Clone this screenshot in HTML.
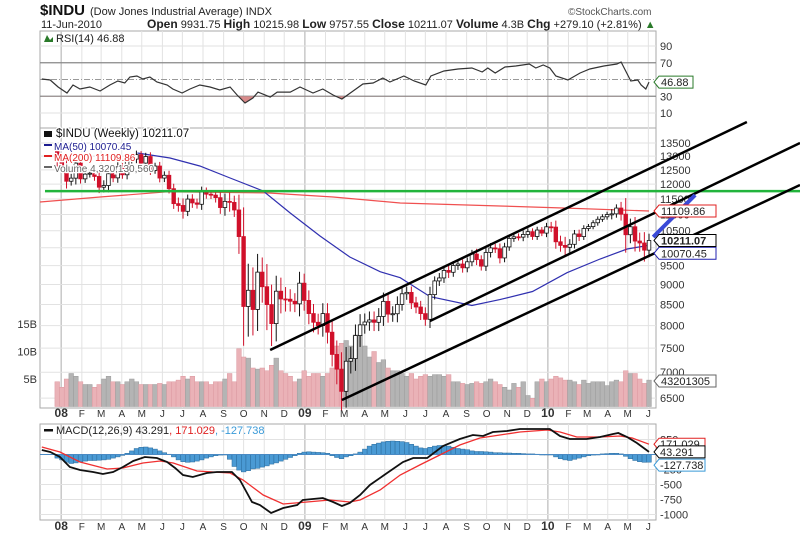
<!DOCTYPE html>
<html><head><meta charset="utf-8"><style>
html,body{margin:0;padding:0;background:#fff;width:800px;height:541px;overflow:hidden}
svg{display:block;font-family:"Liberation Sans",Arial,sans-serif}
</style></head><body>
<svg id="chart" width="800" height="541" viewBox="0 0 800 541" xmlns="http://www.w3.org/2000/svg">
<rect x="0" y="0" width="800" height="541" fill="#fff"/>
<text x="40" y="15" font-size="15" font-weight="bold" fill="#111">$INDU</text>
<text x="90" y="15" font-size="11" fill="#222">(Dow Jones Industrial Average) INDX</text>
<text x="568" y="15" font-size="10" fill="#555">©StockCharts.com</text>
<text x="41" y="28" font-size="11" fill="#222">11-Jun-2010</text>
<text x="147" y="28" font-size="11" fill="#222"><tspan font-weight="bold" font-size="12">Open</tspan> 9931.75 <tspan font-weight="bold" font-size="12">High</tspan> 10215.98 <tspan font-weight="bold" font-size="12">Low</tspan> 9757.55 <tspan font-weight="bold" font-size="12">Close</tspan> 10211.07 <tspan font-weight="bold" font-size="12">Volume</tspan> 4.3B <tspan font-weight="bold" font-size="12">Chg</tspan> +279.10 (+2.81%) <tspan fill="#2a7a2a">▲</tspan></text>
<g id="g"></g>
</svg>
<script>
// ---------- DATA ----------
const closes = [12800,12606,12099,12207,12743,12182,12348,12381,12266,11894,11951,12361,12216,12609,12325,12849,12891,13058,12745,12986,12480,12638,12210,12307,11843,11347,11288,11100,11496,11370,11326,11734,11659,11628,11543,11220,11421,11388,11143,10325,8451,8852,8378,9325,8943,8497,8046,8829,8635,8629,8579,8515,
9034,8599,8281,8077,8000,8280,7850,7366,7062,6627,7224,7278,7776,8017,8083,8131,8076,8212,8575,8268,8277,8500,8764,8799,8539,8438,8280,8146,8743,9093,9171,9370,9321,9505,9544,9441,9605,9820,9665,9487,9865,9995,9972,9712,10023,10270,10318,10309,10388,10471,10328,10520,10428,
10618,10609,10172,10067,10012,10099,10402,10325,10566,10624,10742,10850,10927,10997,11019,11204,11009,10380,10620,10193,10137,9931,10211];
const firstOpen = 13200;
const wick = [180,200,250,150,220,160,140,120,150,200,180,230,150,170,140,160,120,150,130,140,160,120,150,140,160,170,200,230,150,160,140,180,150,130,160,200,260,300,220,
500,900,700,600,500,400,600,500,400,350,300,250,200,
300,250,250,230,200,250,250,250,300,350,300,250,250,
250,200,200,200,200,220,200,180,200,150,150,150,150,
150,150,200,120,130,130,150,120,120,130,120,120,150,120,130,140,120,150,120,110,100,100,120,100,100,100,90,
120,150,200,180,250,150,120,130,100,80,80,90,80,90,150,120,200,520,250,300,250,320,200];
const volumes = [4.5,3.5,5,6,5.5,4.5,4,4,3.5,4,5,5.5,4.5,
4.5,4,4.5,5,4.5,4,4,4,4,4.2,4,4.5,4.5,
4.8,5.5,5,5.5,4.5,4.5,4.5,4,4.5,4.5,5,6,4.5,
10.5,9,8.8,7,6.8,7,6.5,7.5,8.8,6.5,6,5.5,4.5,
5,6.5,5.5,6,6,5.5,6,7,11,11.5,12,11,13,
13,11,9,10,8,8.5,7,6.5,6.5,6,5.5,6,5,
5.5,5.8,5.5,5.8,5.8,5.5,5.8,4.5,4.5,4.2,4,4.2,4.5,
4.2,4.5,5,4.5,4,3.5,3,4.2,3.5,4.5,2,1.5,4.5,
5,4.5,5,5.5,5.2,4.8,4.8,4.5,4,4.8,4.2,4.5,4.5,4.5,3.8,4.5,4.8,4.5,6.5,6,6,5,4.2,4.8];
const ma50Idx = [17.2,24.2,30.6,37.1,44.2,50,56.4,62.8,69.3,73.6,80,89,95,102,109.4,116.5,122.3,127];
const ma50Val = [13118,12932,12639,12212,11766,11046,10341,9738,9337,9178,8694,8475,8620,8821,9310,9682,9964,10070];
const ma200Idx = [-3.7,9.2,23.6,45,59.2,73.6,95,109.4,127];
const ma200Val = [11401,11566,11737,11703,11566,11368,11270,11204,11110];
const rsiIdx = [-3.3,-1.5,0.2,2.1,3.4,4.9,7,9.2,11.3,13,14.5,15.6,17.1,18.4,19.9,21.4,23.6,24.8,26.8,28.5,30.6,32.8,34.9,37.1,38.6,40.3,42,43.1,45.7,47.2,50,52.1,54.9,57,59.2,61.1,63.5,65.6,67.8,69.9,71.4,74.4,76.6,79.1,80.2,83,86,89,91.2,92.4,94,96.1,98.4,101.3,102.7,104.3,105.7,107,109.6,112.2,114.3,117.3,120.1,121,123.1,124.6,125.3,126.3,127];
const rsiVal = [50.6,49.4,41,33.9,43.4,38.7,41,36.3,43.4,48.2,45.8,53,54.2,50.6,53,47,43.4,38.7,33.9,38.7,43.4,41,37.5,41,31.5,22,27.9,35,29,35,35,41,33.9,38.7,31.5,26.7,36.3,44.6,45.8,51.8,47,54.2,48.2,43.4,54.2,60.1,62.5,63.7,59,63.7,57.8,64.9,66.1,68.5,63.7,67.3,63.7,54.2,49.4,57.8,62.5,66.1,68.5,70.9,48.2,49.4,43.4,38.7,46.9];
const macdIdx = [-3.3,-1.5,0.6,2.7,4.9,7.7,9.8,12,14.1,16.3,18.8,21.4,23.6,25.3,27,29.1,32.1,34.3,37.5,39.2,41.8,43.5,45.9,48.5,51.5,52.7,57,59.2,61.1,62.8,65,67.1,70.8,74.2,76.4,79.4,82.8,86.4,89.2,91.4,93.5,96.5,99.3,102.1,105.7,107.9,110,113.6,116.5,119.3,120.4,122.3,124.4,127];
const macdVal = [75,42,-42,-208,-258,-292,-325,-292,-208,-108,-42,-58,-125,-225,-342,-375,-308,-292,-292,-425,-792,-842,-975,-892,-842,-758,-725,-792,-858,-808,-675,-508,-308,-125,-58,-58,142,258,325,308,375,392,425,425,425,308,258,258,292,342,358,292,192,43];
const sigIdx = [-3.3,0.6,4.9,10.7,14.1,18.4,22.1,24.9,30,37.1,39.9,44.2,48.5,53.6,58.5,62.8,65,69.3,73.6,77.8,82.1,86.4,90.7,95,99.3,105.1,107.9,111.5,116.5,120.8,123.4,127];
const sigVal = [125,42,-125,-242,-225,-142,-108,-142,-275,-308,-425,-675,-825,-792,-758,-792,-758,-592,-342,-175,-8,158,275,325,375,408,375,292,292,308,275,171];
const hist = [-60,-90,-130,-150,-140,-120,-110,-100,-100,-95,-90,-80,-60,-40,-15,20,60,100,120,125,110,90,60,30,5,-40,-90,-120,-130,-125,-110,-90,-60,-40,-20,-10,-5,-80,-200,-260,-290,-270,-240,-230,-210,-190,-160,-140,-110,-80,-50,-20,20,40,45,40,35,30,20,-20,-50,-70,-40,-20,10,40,90,140,170,190,210,220,225,220,215,200,170,140,110,100,120,140,150,150,140,120,100,90,80,60,50,50,45,40,30,30,25,25,20,20,15,10,10,5,0,0,-5,-40,-70,-90,-100,-80,-60,-40,-20,-10,0,10,15,20,20,10,-30,-70,-100,-120,-130,-128];
const priceTicks = [13500,13000,12500,12000,11500,11000,10500,10000,9500,9000,8500,8000,7500,7000,6500];
const volTicks = [15,10,5];
const rsiTicks = [90,70,50,30,10];
const macdTicks = [250,0,-250,-500,-750,-1000];
const resistance = 11760;
const trendA = [[45.7,7460],[148,14337]];
const trendB = [[80,8107],[159.4,13500]];
const trendC = [[61.1,6465],[159.4,11969]];
const trendD = [[127.9,10313],[136.9,11632]];

// ---------- SCALES ----------
const L=40,R=656;
const xOf = i => 57.2 + 4.66*i;
const yP = p => 143 + (Math.log(13500) - Math.log(p))*349;
const yV = b => 406.5 - b*5.5;
const yR = v => 46 + (90 - v)*0.8375;
const yM = v => 454.5 - v*0.06;
const NS='http://www.w3.org/2000/svg';
const G=document.getElementById('g');
function mk(tag,attrs,parent,txt){const e=document.createElementNS(NS,tag);for(const k in attrs)e.setAttribute(k,attrs[k]);if(txt!==undefined)e.textContent=txt;(parent||G).appendChild(e);return e;}

const panels=[['rsi-panel',31,128],['price-panel',128,408],['macd-panel',424,520]];
panels.forEach(p=>{const r=mk('rect',{x:L,y:p[1],width:R-L,height:p[2]-p[1],fill:'#fff',stroke:'#aaa','stroke-width':1});

});

const base=new Date(2008,0,4);
const mNames=['J','F','M','A','M','J','J','A','S','O','N','D'];
for(let y=2008;y<=2010;y++){for(let m=0;m<12;m++){if(y===2010&&m>5)break;
 const d=new Date(y,m,1);const days=(d-base)/864e5;const x=xOf(days/7)+6;
 [[31,128],[128,408],[424,520]].forEach(r=>{const ln=mk('line',{x1:x,x2:x,y1:r[0],y2:r[1],stroke:m===0?'#c8c8c8':'#e2e2e2','stroke-width':m===0?1.5:1});
 
 });
 const lab=m===0?String(y).slice(2):mNames[m];
 [417,530].forEach(yy=>{const t=mk('text',{x:x,y:yy,'font-size':m===0?12:10,'font-weight':m===0?'bold':'normal','text-anchor':'middle',fill:'#333'},G,lab);
 
 });
}}

priceTicks.forEach(p=>{const y=yP(p);const ln=mk('line',{x1:L,x2:R,y1:y,y2:y,stroke:'#e2e2e2'});


const t=mk('text',{x:660,y:y+4,'font-size':11,fill:'#333'},G,String(p));

});
volTicks.forEach(v=>{const t=mk('text',{x:37,y:yV(v)+4,'font-size':11,fill:'#333','text-anchor':'end'},G,v+'B');

});

volumes.forEach((v,i)=>{const prev=i===0?firstOpen:closes[i-1];const up=closes[i]>=prev;
const r=mk('rect',{x:xOf(i)-2.3,y:yV(v),width:4.66,height:406.5-yV(v),fill:up?'#b4b4b4':'#eab2b7',stroke:up?'#9c9c9c':'#dc98a0','stroke-width':0.5});

});

function pl(idx,val,yf,color,w,name){const pts=idx.map((k,j)=>xOf(k).toFixed(1)+','+yf(val[j]).toFixed(1)).join(' ');
const e=mk('polyline',{points:pts,fill:'none',stroke:color,'stroke-width':w});

return e;}
pl(ma200Idx,ma200Val,yP,'#f05050',1.2,'ma200-line');
pl(ma50Idx,ma50Val,yP,'#3030b0',1.2,'ma50-line');

closes.forEach((c,i)=>{const o=i===0?firstOpen:closes[i-1];const up=c>=o;const hi=Math.max(o,c)+wick[i],lo=Math.min(o,c)-wick[i];const x=xOf(i);
const col=up?'#111':'#d0102a';
const w=mk('line',{x1:x,x2:x,y1:yP(hi),y2:yP(lo),stroke:col,'stroke-width':1});


const top=yP(Math.max(o,c)),bot=yP(Math.min(o,c));
const b=mk('rect',{x:x-1.8,y:top,width:3.6,height:Math.max(1,bot-top),fill:up?'#fff':'#d0102a',stroke:col,'stroke-width':0.8});

});

const gl=mk('line',{x1:45,x2:800,y1:yP(resistance),y2:yP(resistance),stroke:'#22b43c','stroke-width':2.5});


[[trendA,'upper-channel-line','#000',2.5],[trendB,'middle-channel-line','#000',2.5],[trendC,'lower-channel-line','#000',2.5],[trendD,'projection-line','#3a4ad8',4]].forEach(t=>{
const a=t[0];const e=mk('line',{x1:xOf(a[0][0]),y1:yP(a[0][1]),x2:xOf(a[1][0]),y2:yP(a[1][1]),stroke:t[2],'stroke-width':t[3]});

});

const lg=[['$INDU (Weekly) 10211.07',137,'#111',11.5],['MA(50) 10070.45',150,'#1c1c90',10],['MA(200) 11109.86',161,'#e02020',10],['Volume 4,320,130,560',172,'#666',10]];
lg.forEach((l,j)=>{const t=mk('text',{x:j===0?56:54,y:l[1],'font-size':l[3],fill:l[2],stroke:'#fff','stroke-width':2.5,'paint-order':'stroke'},G,l[0]);


const s=mk('rect',{x:44,y:l[1]-6,width:8,height:j===0?6:2,fill:l[2]});

});

function tag(y,txt,col,bold,name){const r=mk('path',{d:`M654 ${y} l5 -6 h57 v12 h-57 z`,fill:'#fff',stroke:col,'stroke-width':1});


const t=mk('text',{x:661,y:y+4,'font-size':11,'font-weight':bold?'bold':'normal',fill:'#222'},G,txt);

}
tag(yP(11110),'11109.86','#e02020',false,'ma200-value-tag');
tag(yP(10070)+8,'10070.45','#2020b0',false,'ma50-value-tag');
tag(yP(10211),'10211.07','#000',true,'close-value-tag');
tag(381,'43201305','#666',false,'volume-value-tag');

rsiTicks.forEach(v=>{const y=yR(v);const ln=mk('line',{x1:L,x2:R,y1:y,y2:y,stroke:(v===70||v===30)?'#888':(v===50?'#999':'#e2e2e2'),'stroke-width':(v===70||v===30)?1.2:1,'stroke-dasharray':v===50?'6,2,1,2':'none'});


const t=mk('text',{x:660,y:y+4,'font-size':11,fill:'#333'},G,String(v));

});
const cp=mk('clipPath',{id:'below30'});
mk('rect',{x:L,y:yR(30),width:R-L,height:40},cp);
const fillPts=rsiIdx.map((k,j)=>xOf(k).toFixed(1)+','+yR(rsiVal[j]).toFixed(1)).join(' ');
const rf=mk('polygon',{points:fillPts+` ${xOf(127)},${yR(30)} ${xOf(-3.3)},${yR(30)}`,fill:'#d88a8a','clip-path':'url(#below30)'});


pl(rsiIdx,rsiVal,yR,'#333',1.2,'rsi-line');
const rl=mk('text',{x:56,y:42,'font-size':11,fill:'#222'},G,'RSI(14) 46.88');


const ri=mk('path',{d:'M44 42 l3 -7 l3 5 l3 -3 v5 z',fill:'#2a7a2a'});


const rt=mk('path',{d:`M654 ${yR(46.88)} l5 -6 h34 v12 h-34 z`,fill:'#fff',stroke:'#2a7a2a'});


const rtt=mk('text',{x:661,y:yR(46.88)+4,'font-size':11,fill:'#222'},G,'46.88');



macdTicks.forEach(v=>{const y=yM(v);const ln=mk('line',{x1:L,x2:R,y1:y,y2:y,stroke:'#e2e2e2'});


if(v!==0){const t=mk('text',{x:660,y:y+4,'font-size':11,fill:'#333'},G,String(v));

}});
hist.forEach((h,i)=>{const y0=yM(0),y1=yM(h);
const r=mk('rect',{x:xOf(i)-2.3,y:Math.min(y0,y1),width:4.66,height:Math.max(0.5,Math.abs(y1-y0)),fill:'#4a9ad4',stroke:'#2a6a9a','stroke-width':0.5});

});
const zl=mk('line',{x1:L,x2:R,y1:yM(0),y2:yM(0),stroke:'#4a8ac4','stroke-width':1});


pl(sigIdx,sigVal,yM,'#f03030',1.3,'macd-signal-line');
pl(macdIdx,macdVal,yM,'#111',1.8,'macd-line');
const ml=mk('text',{x:56,y:434,'font-size':11,fill:'#222'},G);


mk('tspan',{},ml,'MACD(12,26,9) 43.291');mk('tspan',{fill:'#e02020'},ml,', 171.029');mk('tspan',{fill:'#3a9ad8'},ml,', -127.738');
const ms=mk('rect',{x:44,y:429,width:9,height:2.5,fill:'#111'});


[[yM(171),'171.029','#e02020'],[yM(43),'43.291','#000'],[yM(-128)+3,'-127.738','#3a9ad8']].forEach(a=>{
const b=mk('path',{d:`M654 ${a[0]} l5 -6 h46 v12 h-46 z`,fill:'#fff',stroke:a[2]});


const t=mk('text',{x:660,y:a[0]+4,'font-size':11,fill:'#222'},G,a[1]);

});
</script>
</body></html>
